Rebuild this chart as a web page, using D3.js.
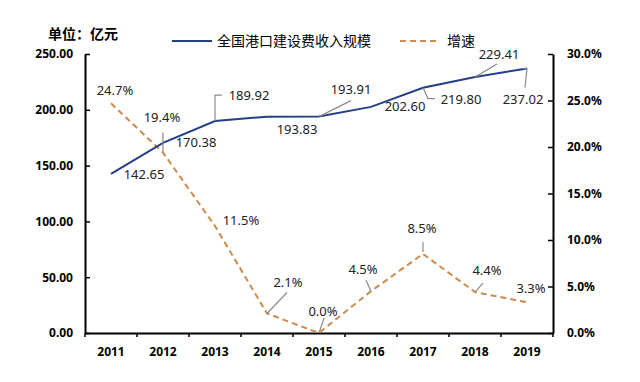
<!DOCTYPE html>
<html>
<head>
<meta charset="utf-8">
<script src="https://cdn.jsdelivr.net/npm/d3@7"></script>
<style>
  body { margin: 0; background: #fff; }
  svg { display: block; }
</style>
</head>
<body>
<div id="chart"></div>
<script>
// data
var years = ["2011", "2012", "2013", "2014", "2015", "2016", "2017", "2018", "2019"];
var income = [142.65, 170.38, 189.92, 193.83, 193.91, 202.6, 219.8, 229.41, 237.02];
var growth = [24.7, 19.4, 11.5, 2.1, 0.0, 4.5, 8.5, 4.4, 3.3];
var leftTicks = [0, 50, 100, 150, 200, 250];
var rightTicks = [0, 5, 10, 15, 20, 25, 30];

// label placement (offset from the point, px) + leader lines
var incomeLabelPos = [
  { dx: 33, dy: 1 },
  { dx: 33, dy: 0 },
  { dx: 34, dy: -26, leader: [[0, 0], [0, -26], [7, -26]] },
  { dx: 30, dy: 13 },
  { dx: 32, dy: -27, leader: [[0, 0], [32, -16]] },
  { dx: 34, dy: 0 },
  { dx: 38, dy: 12, leader: [[0, 0], [5, 11], [12, 11]] },
  { dx: 24, dy: -23, leader: [[0, 0], [22, -13]] },
  { dx: -4, dy: 31, leader: [[-4, 0], [0, 0], [-2, 19]] },
];
var growthLabelPos = [
  { dx: 4, dy: -13 },
  { dx: -1, dy: -35, leader: [[0, 0], [0, -20]] },
  { dx: 26, dy: -6 },
  { dx: 21, dy: -31, leader: [[0, 0], [20, -21]] },
  { dx: 4, dy: -22, leader: [[0, 0], [5, -15]] },
  { dx: -8, dy: -22, leader: [[0, 0], [-5, -11]] },
  { dx: -1, dy: -26, leader: [[0, -2], [0, -12]] },
  { dx: 12, dy: -22, leader: [[0, 0], [8, -9]] },
  { dx: 4, dy: -14 },
];

var width = 640;
var height = 382;
var margin = { top: 54, right: 87, bottom: 49, left: 85 };

var blue = "#233f86";
var orange = "#cc8a4c";
var grey = "#8a8a8a";
var latin = "'Noto Sans', 'DejaVu Sans', sans-serif";
var cjk = "'Noto Sans CJK SC', 'Noto Sans', sans-serif";

var svg = d3
  .select("#chart")
  .append("svg")
  .attr("width", width)
  .attr("height", height);

var x = d3
  .scaleBand()
  .domain(years)
  .range([margin.left, width - margin.right])
  .padding(0);

var yL = d3
  .scaleLinear()
  .domain([0, 250])
  .range([height - margin.bottom, margin.top]);

var yR = d3
  .scaleLinear()
  .domain([0, 30])
  .range([height - margin.bottom, margin.top]);

var cx = (i) => x(years[i]) + x.bandwidth() / 2;

// axes
function xAxis(g) {
  g.attr("transform", `translate(0, ${height - margin.bottom})`)
    .call(d3.axisBottom(x).tickSize(0).tickPadding(14));
  // ticks sit on the band edges, not the centres
  var edges = years.map((d) => x(d)).concat([x.range()[1]]);
  g.selectAll("line.edge")
    .data(edges)
    .join("line")
    .attr("class", "edge")
    .attr("x1", (d) => d)
    .attr("x2", (d) => d)
    .attr("y1", 0)
    .attr("y2", 4)
    .attr("stroke", "#000")
    .attr("stroke-width", 1.5);
}

function yAxisLeft(g) {
  g.attr("transform", `translate(${margin.left}, 0)`).call(
    d3
      .axisLeft(yL)
      .tickValues(leftTicks)
      .tickFormat(d3.format(".2f"))
      .tickSizeInner(-5)
      .tickSizeOuter(0)
      .tickPadding(12)
  );
}

function yAxisRight(g) {
  g.attr("transform", `translate(${width - margin.right}, 0)`).call(
    d3
      .axisRight(yR)
      .tickValues(rightTicks)
      .tickFormat((d) => d3.format(".1f")(d) + "%")
      .tickSizeInner(-5)
      .tickSizeOuter(0)
      .tickPadding(14)
  );
}

svg.append("g").attr("class", "xAxis").call(xAxis);
svg.append("g").attr("class", "yAxisL").call(yAxisLeft);
svg.append("g").attr("class", "yAxisR").call(yAxisRight);

svg.selectAll(".domain").attr("stroke", "#000").attr("stroke-width", 2);
svg.selectAll(".tick line").attr("stroke", "#000").attr("stroke-width", 1.5);
svg
  .selectAll(".tick text")
  .attr("fill", "#000")
  .style("font-family", latin)
  .style("font-size", "12px")
  .style("font-weight", "bold");

// growth line (dashed)
var lineGrowth = d3
  .line()
  .x((d, i) => cx(i))
  .y((d) => yR(d));

svg
  .append("path")
  .datum(growth)
  .attr("fill", "none")
  .attr("stroke", orange)
  .attr("stroke-width", 2)
  .attr("stroke-dasharray", "6,4")
  .attr("d", lineGrowth);

// income line
var lineIncome = d3
  .line()
  .x((d, i) => cx(i))
  .y((d) => yL(d));

svg
  .append("path")
  .datum(income)
  .attr("fill", "none")
  .attr("stroke", blue)
  .attr("stroke-width", 2)
  .attr("d", lineIncome);

// leader lines + labels
function drawLabels(values, pos, yScale, fmt) {
  var leaders = d3.line();
  values.forEach(function (v, i) {
    var px = cx(i);
    var py = yScale(v);
    var p = pos[i];
    if (p.leader) {
      svg
        .append("path")
        .attr("fill", "none")
        .attr("stroke", grey)
        .attr("stroke-width", 1.2)
        .attr("d", leaders(p.leader.map((q) => [px + q[0], py + q[1]])));
    }
    svg
      .append("text")
      .attr("x", px + p.dx)
      .attr("y", py + p.dy)
      .attr("dy", "0.35em")
      .attr("text-anchor", "middle")
      .attr("fill", "#222")
      .style("font-family", latin)
      .style("font-size", "13px")
      .text(fmt(v));
  });
}

drawLabels(growth, growthLabelPos, yR, (v) => d3.format(".1f")(v) + "%");
drawLabels(income, incomeLabelPos, yL, d3.format(".2f"));

// unit + legend
svg
  .append("text")
  .attr("x", 83)
  .attr("y", 34)
  .attr("dy", "0.35em")
  .attr("text-anchor", "middle")
  .style("font-family", cjk)
  .style("font-size", "14px")
  .style("font-weight", "bold")
  .text("单位：亿元");

var legend = svg.append("g").attr("class", "legend");

legend
  .append("line")
  .attr("x1", 172)
  .attr("x2", 212)
  .attr("y1", 41)
  .attr("y2", 41)
  .attr("stroke", blue)
  .attr("stroke-width", 2);

legend
  .append("text")
  .attr("x", 217)
  .attr("y", 41)
  .attr("dy", "0.35em")
  .style("font-family", cjk)
  .style("font-size", "14px")
  .text("全国港口建设费收入规模");

legend
  .append("line")
  .attr("x1", 400)
  .attr("x2", 438)
  .attr("y1", 41)
  .attr("y2", 41)
  .attr("stroke", orange)
  .attr("stroke-width", 2)
  .attr("stroke-dasharray", "6,4");

legend
  .append("text")
  .attr("x", 447)
  .attr("y", 41)
  .attr("dy", "0.35em")
  .style("font-family", cjk)
  .style("font-size", "14px")
  .text("增速");
</script>
</body>
</html>
